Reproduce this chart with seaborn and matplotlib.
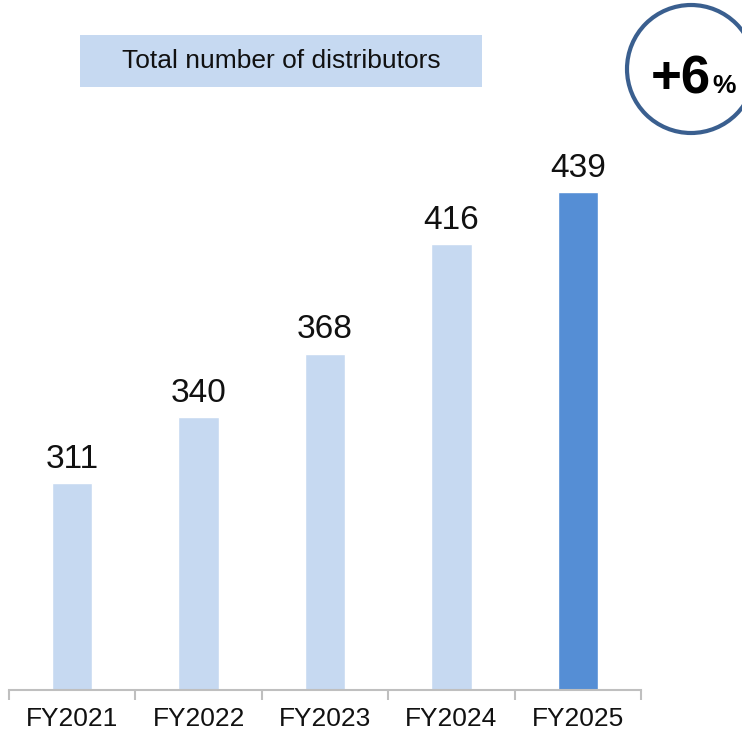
import numpy as np
import seaborn as sns
import matplotlib.pyplot as plt
from matplotlib.patches import Rectangle, Circle

years = ["FY2021", "FY2022", "FY2023", "FY2024", "FY2025"]
distributors = [311, 340, 368, 416, 439]
bar_colors = ["#C6D9F1", "#C6D9F1", "#C6D9F1", "#C6D9F1", "#558ED5"]
title_text = "Total number of distributors"
growth_text = "+6"

sns.set_style("white")
plt.rcParams['font.family'] = ['Liberation Sans', 'DejaVu Sans']

fig = plt.figure(figsize=(7.42, 7.35), dpi=100)
ax = fig.add_axes([9 / 742, 45 / 735, 632 / 742, 690 / 735])

sns.barplot(x=years, y=distributors, hue=years, palette=bar_colors,
            width=0.32, legend=False, ax=ax, saturation=1)

ax.set_ylim(220, 523.5)
ax.set_xlim(-0.5, 4.5)
for c in ax.containers:
    ax.bar_label(c, fontsize=24, padding=6, color="#111111")

# axis styling
for s in ["top", "right", "left"]:
    ax.spines[s].set_visible(False)
ax.spines["bottom"].set_color("#BFBFBF")
ax.spines["bottom"].set_linewidth(1.5)
ax.set_yticks([])
ax.set_xticks(np.arange(-0.5, 5, 1), minor=True)
ax.tick_params(axis="x", which="minor", bottom=True, length=7, width=1.5,
               color="#BFBFBF", direction="out")
ax.tick_params(axis="x", which="major", length=0, labelsize=19, pad=12, labelcolor="#111111")
ax.set_xlabel("")
ax.set_ylabel("")

# title box
fig.patches.append(Rectangle((80 / 742, (735 - 87) / 735), 402 / 742, 52 / 735,
                             transform=fig.transFigure, facecolor="#C6D9F1",
                             edgecolor="none", zorder=0))
fig.text(281 / 742, (735 - 61) / 735, title_text, ha="center", va="center",
         fontsize=19, color="#111111")

# growth circle
circ = Circle((6.91, (735 - 69) / 100), 0.64, transform=fig.dpi_scale_trans,
              facecolor="white", edgecolor="#3A5F8F", linewidth=3)
fig.patches.append(circ)
fig.text(6.81, (735 - 80) / 100, growth_text, transform=fig.dpi_scale_trans,
         ha="center", va="center", fontsize=38, fontweight="bold", color="black")
fig.text(7.245, (735 - 86) / 100, "%", transform=fig.dpi_scale_trans,
         ha="center", va="center", fontsize=19, fontweight="bold", color="black")

fig.savefig("out.png", dpi=100)
